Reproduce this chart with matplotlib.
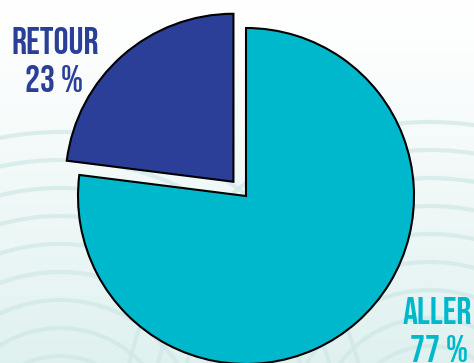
import matplotlib.pyplot as plt
import numpy as np
from matplotlib.patches import Circle

labels = ["ALLER", "RETOUR"]
shares = [77, 23]
colors = ["#00b8cc", "#2b3f98"]
explode = [0.0, 0.113]

W, H = 474, 363
fig = plt.figure(figsize=(W / 100, H / 100), dpi=100)

# background axes in pixel units (y down)
bg_ax = fig.add_axes([0, 0, 1, 1], zorder=0)
bg_ax.set_xlim(0, W)
bg_ax.set_ylim(H, 0)
bg_ax.axis("off")
grad = np.linspace(0, 1, H)[:, None] ** 1.2
top = np.array([1.0, 1.0, 1.0])
bottom = np.array([0.875, 0.945, 0.94])
bg = top + (bottom - top) * grad[..., None]
bg = np.repeat(bg, 2, axis=1)
bg_ax.imshow(bg, extent=[0, W, H, 0], aspect="auto")
for centre in [(60, 440), (430, 430)]:
    for k in range(3, 12):
        bg_ax.add_patch(Circle(centre, k * 28, fill=False, ec="#cfe8e7", lw=3, alpha=0.7))

# pie axes, centre at (246, 196) px, radius 168 px
cx, cy, r = 246, 196, 168
ax = fig.add_axes([0, 0, 1, 1], zorder=1)
ax.patch.set_alpha(0)
ax.pie(shares, colors=colors, explode=explode, startangle=90, counterclock=False, radius=1,
       wedgeprops=dict(edgecolor="black", linewidth=1.5))
ax.set_aspect("auto")
ax.set_xlim(-cx / r, (W - cx) / r)
ax.set_ylim(-(H - cy) / r, cy / r)
ax.axis("off")

font = dict(family="Bebas Neue", fontsize=27, ha="center", va="center")
fig.text(55 / W, 1 - 40 / H, labels[1], color=colors[1], **font)
fig.text(54 / W, 1 - 79 / H, f"{shares[1]} %", color=colors[1], **font)
fig.text(437 / W, 1 - 310 / H, labels[0], color=colors[0], **font)
fig.text(439 / W, 1 - 348 / H, f"{shares[0]} %", color=colors[0], **font)

fig.savefig("out.png", dpi=100)
